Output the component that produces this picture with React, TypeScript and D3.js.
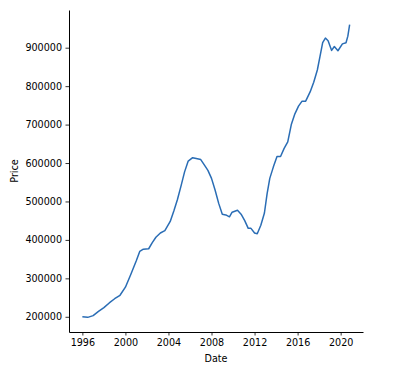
import React, { useEffect, useRef } from "react";
import * as d3 from "d3";

// monthly-ish samples
const dates = [
  "1996-01", "1996-07", "1997-01", "1997-07", "1998-01", "1998-07", "1999-01", "1999-07",
  "2000-01", "2000-07", "2001-01", "2001-05", "2001-09", "2002-03", "2002-07", "2002-11",
  "2003-04", "2003-09", "2004-03", "2004-07", "2004-11", "2005-03", "2005-07", "2005-11",
  "2006-04", "2006-08", "2007-01", "2007-05", "2007-09", "2008-01", "2008-05", "2008-09",
  "2009-01", "2009-05", "2009-09", "2009-12", "2010-06", "2010-10", "2011-02", "2011-06",
  "2011-09", "2012-01", "2012-04", "2012-08", "2012-12", "2013-03", "2013-06", "2013-10",
  "2014-02", "2014-06", "2014-10", "2015-02", "2015-06", "2015-10", "2016-02", "2016-06",
  "2016-10", "2017-03", "2017-07", "2017-11", "2018-02", "2018-05", "2018-08", "2018-11",
  "2019-03", "2019-06", "2019-10", "2020-03", "2020-07", "2020-09", "2020-11",
];

const prices = [
  200000, 198500, 203000, 214000, 224000, 236000, 247000, 256000,
  277000, 310000, 345000, 370000, 376000, 377000, 393000, 407000,
  418000, 424000, 448000, 475000, 505000, 540000, 577000, 605000,
  614000, 612000, 609000, 595000, 581000, 560000, 530000, 495000,
  467000, 465000, 460000, 472000, 477000, 467000, 450000, 430000,
  430000, 418000, 416000, 438000, 470000, 520000, 560000, 590000,
  617000, 617000, 638000, 655000, 700000, 728000, 748000, 761000,
  761000, 785000, 810000, 842000, 878000, 913000, 925000, 918000,
  893000, 903000, 892000, 910000, 913000, 930000, 960000,
];

const yTicks = [200000, 300000, 400000, 500000, 600000, 700000, 800000, 900000];
const xTickYears = [1996, 2000, 2004, 2008, 2012, 2016, 2020];

const LineChart = () => {
  const ref = useRef(null);

  useEffect(() => {
    const width = 400;
    const height = 379;
    const margin = { top: 10, right: 37, bottom: 47, left: 69 };

    const parse = d3.timeParse("%Y-%m");
    const data = dates.map((d, i) => ({ date: parse(d), price: prices[i] }));

    d3.select(ref.current).selectAll("*").remove();

    const svg = d3
      .select(ref.current)
      .append("svg")
      .attr("width", width)
      .attr("height", height)
      .style("position", "absolute")
      .style("left", 0)
      .style("top", 0)
      .style("font-family", "'DejaVu Sans', sans-serif");

    // matplotlib-style 5% padding around the data
    const [t0, t1] = d3.extent(data, (d) => +d.date);
    const tPad = (t1 - t0) * 0.05;
    const [p0, p1] = d3.extent(data, (d) => d.price);
    const pPad = (p1 - p0) * 0.05;

    const x = d3
      .scaleTime()
      .domain([new Date(t0 - tPad), new Date(t1 + tPad)])
      .range([margin.left, width - margin.right]);

    const y = d3
      .scaleLinear()
      .domain([p0 - pPad, p1 + pPad])
      .range([height - margin.bottom, margin.top]);

    const xAxis = d3
      .axisBottom(x)
      .tickValues(xTickYears.map((yr) => new Date(yr, 0, 1)))
      .tickFormat(d3.timeFormat("%Y"))
      .tickSizeInner(3.5)
      .tickSizeOuter(0)
      .tickPadding(3.5);

    const yAxis = d3
      .axisLeft(y)
      .tickValues(yTicks)
      .tickFormat(d3.format("d"))
      .tickSizeInner(3.5)
      .tickSizeOuter(0)
      .tickPadding(3.5);

    const gx = svg
      .append("g")
      .attr("transform", `translate(0,${height - margin.bottom})`)
      .call(xAxis);

    const gy = svg
      .append("g")
      .attr("transform", `translate(${margin.left},0)`)
      .call(yAxis);

    [gx, gy].forEach((g) => {
      g.selectAll("path.domain").attr("stroke", "#000").attr("stroke-width", 1);
      g.selectAll(".tick line").attr("stroke", "#000").attr("stroke-width", 0.8);
      g.selectAll(".tick text")
        .attr("fill", "#000")
        .style("font-size", "9.6px")
        .style("font-family", "'DejaVu Sans', sans-serif");
    });

    const line = d3
      .line()
      .x((d) => x(d.date))
      .y((d) => y(d.price));

    svg
      .append("path")
      .datum(data)
      .attr("fill", "none")
      .attr("stroke", "#2a6db5")
      .attr("stroke-width", 1.5)
      .attr("stroke-linejoin", "round")
      .attr("d", line);

    svg
      .append("text")
      .attr("x", (margin.left + width - margin.right) / 2)
      .attr("y", 362)
      .attr("text-anchor", "middle")
      .style("font-size", "9.6px")
      .text("Date");

    svg
      .append("text")
      .attr("transform", `translate(18,${(margin.top + height - margin.bottom) / 2}) rotate(-90)`)
      .attr("text-anchor", "middle")
      .style("font-size", "9.6px")
      .text("Price");
  }, []);

  return <div ref={ref}></div>;
};

export default function App() {
  return <LineChart />;
}
